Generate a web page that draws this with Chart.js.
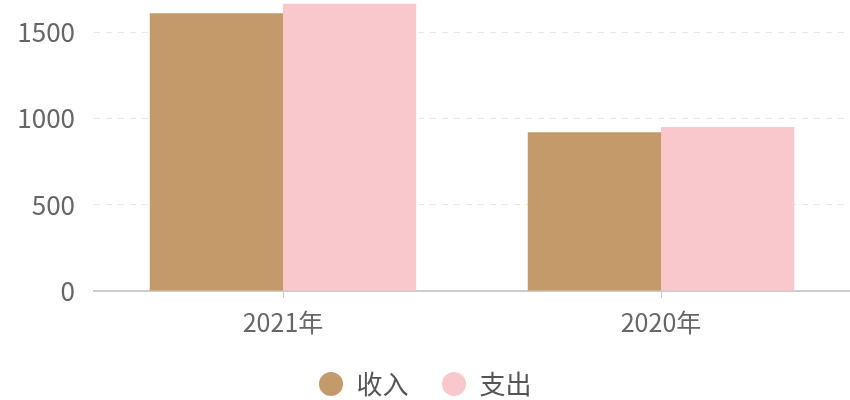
<!DOCTYPE html>
<html lang="zh-CN">
<head>
  <meta charset="UTF-8" />
  <title>收入支出</title>
  <script src="https://cdn.jsdelivr.net/npm/chart.js"></script>
  <style>
    body { margin: 0; background: #fff; overflow: hidden; }
    /* a parte de cima do canvas fica fora da janela, como no recorte original */
    .wrap { position: absolute; left: 0; top: -37px; width: 850px; height: 444px; }
  </style>
</head>
<body>
  <div class="wrap"><canvas id="grafico"></canvas></div>

  <script>
    // dados
    const anos = ['2021年', '2020年'];
    const receita = [1610, 920];
    const despesa = [1665, 950];
    const yTicks = [0, 500, 1000, 1500];

    const fonte = '"Noto Sans CJK SC", "Noto Sans", sans-serif';

    new Chart(document.getElementById('grafico'), {
      type: 'bar',
      data: {
        labels: anos,
        datasets: [
          { label: '收入', data: receita, backgroundColor: '#c49a6a', categoryPercentage: 0.705, barPercentage: 1 },
          { label: '支出', data: despesa, backgroundColor: '#f8c8cc', categoryPercentage: 0.705, barPercentage: 1 }
        ]
      },
      options: {
        responsive: true,
        maintainAspectRatio: false,
        animation: false,
        layout: { padding: 0 },
        plugins: {
          tooltip: { enabled: false },
          legend: {
            position: 'bottom',
            labels: {
              usePointStyle: true,
              pointStyle: 'circle',
              boxWidth: 25,
              boxHeight: 17,
              padding: 33,
              color: '#555',
              font: { family: fonte, size: 26 }
            }
          }
        },
        scales: {
          x: {
            afterFit: s => { s.height = 47; },
            grid: { display: true, drawOnChartArea: false, drawTicks: true, tickLength: 7, color: '#ccc', offset: false },
            border: { color: '#ccc', width: 2 },
            ticks: { color: '#666', padding: 9, font: { family: fonte, size: 25 } }
          },
          y: {
            min: 0,
            max: 1700,
            afterFit: s => { s.width = 94; },
            afterBuildTicks: s => { s.ticks = yTicks.map(v => ({ value: v })); },
            grid: { color: '#e6e6e6', drawTicks: false },
            border: { display: false, dash: [6, 6] },
            ticks: {
              color: '#666',
              padding: 19,
              font: { family: fonte, size: 26 },
              callback: v => String(v)
            }
          }
        }
      }
    });
  </script>
</body>
</html>
